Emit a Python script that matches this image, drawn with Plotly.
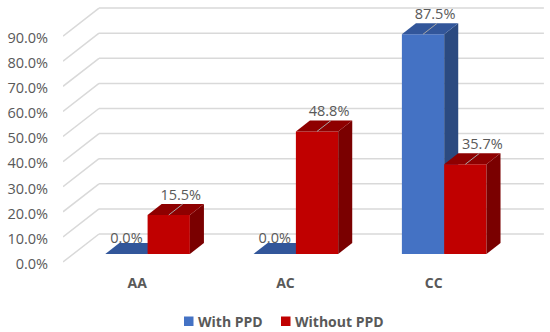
import plotly.graph_objects as go

categories = ["AA", "AC", "CC"]
series_names = ["With PPD", "Without PPD"]
with_ppd = [0.0, 0.0, 87.5]
without_ppd = [15.5, 48.8, 35.7]
y_ticks = [0, 10, 20, 30, 40, 50, 60, 70, 80, 90]
y_tick_labels = [f"{v:.1f}%" for v in y_ticks]

GRAY = "#595959"
BLUE, RED = "#4472C4", "#C00000"
FONT = "Open Sans, Noto Sans, sans-serif"
PX_X, PX_Y = 148.3, 2.51          # pixels per category / per percent
W, H = 550, 332
L, R, T, B = 63, 6, 0, 65
FLOOR_Y = 262                     # pixel row of 0% on the front edge of the floor
X_RANGE = [-0.5, -0.5 + (W - L - R) / PX_X]
Y_RANGE = [(FLOOR_Y - (H - B)) / PX_Y, FLOOR_Y / PX_Y]
LABEL_NUDGE = 0.7                 # tick labels sit a little below their grid line start


def wall(d):
    """Shift (in axis units) for depth d, 0 = front of the floor, 1 = back wall."""
    return d * 36 / PX_X, d * 28 / PX_Y


D0, D1 = 0.29, 0.68
BAR_W = 42.3 / PX_X
dx0, dy0 = wall(D0)
dx1, dy1 = wall(D1)

fig = go.Figure()


def add_bars(values, offset, name, front, side, top, xa, ya):
    xs = [i + offset + dx0 for i in range(len(values))]
    fig.add_trace(go.Bar(x=xs, y=values, base=dy0, width=BAR_W, name=name,
                         marker=dict(color=front, line=dict(width=0)), showlegend=False,
                         xaxis=xa, yaxis=ya, hoverinfo="skip"))
    for x, v in zip(xs, values):
        l, r = x - BAR_W / 2, x + BAR_W / 2
        yt = v + dy0
        ddx, ddy = dx1 - dx0, dy1 - dy0
        if v > 0:
            fig.add_trace(go.Scatter(
                x=[r, r + ddx, r + ddx, r, r], y=[dy0, dy0 + ddy, yt + ddy, yt, dy0],
                mode="lines", fill="toself", fillcolor=side, line=dict(width=0),
                showlegend=False, hoverinfo="skip", xaxis=xa, yaxis=ya))
        fig.add_trace(go.Scatter(
            x=[l, r, r + ddx, l + ddx, l], y=[yt, yt, yt + ddy, yt + ddy, yt],
            mode="lines", fill="toself", fillcolor=top, line=dict(width=0),
            showlegend=False, hoverinfo="skip", xaxis=xa, yaxis=ya))


add_bars(with_ppd, -BAR_W / 2, series_names[0], BLUE, "#2B4A80", "#32569A", "x", "y")
add_bars(without_ppd, BAR_W / 2, series_names[1], RED, "#7A0000", "#8E0000", "x2", "y2")

# leader lines from the front of each top face to its back
for values, offset in ((with_ppd, -BAR_W / 2), (without_ppd, BAR_W / 2)):
    for i, v in enumerate(values):
        if v > 0:
            fig.add_trace(go.Scatter(
                x=[i + offset + dx0, i + offset + dx1], y=[v + dy0, v + dy1],
                mode="lines", line=dict(color="#A6A6A6", width=1),
                showlegend=False, hoverinfo="skip", xaxis="x2", yaxis="y2"))

# data labels
for values, offset in ((with_ppd, -BAR_W / 2), (without_ppd, BAR_W / 2)):
    for i, v in enumerate(values):
        label_dx = 0 if v == 0 else (17 if (i, offset > 0) == (2, True) else 12)
        label_dy = 15 if v == 0 else 19
        fig.add_trace(go.Scatter(
            x=[i + offset + dx0 + label_dx / PX_X], y=[v + dy0 + label_dy / PX_Y],
            mode="text", text=[f"{v:.1f}%"], textposition="middle center",
            textfont=dict(family=FONT, size=14.5, color=GRAY),
            showlegend=False, hoverinfo="skip", xaxis="x2", yaxis="y2", cliponaxis=False))

# walls: grid lines drawn beneath the bars
wx, wy = wall(1)
shapes = []
for v in y_ticks:
    line = dict(color="#D9D9D9", width=1.5)
    shapes.append(dict(type="line", xref="x", yref="y", layer="below",
                       x0=-0.5, y0=v, x1=-0.5 + wx, y1=v + wy, line=line))
    shapes.append(dict(type="line", xref="x", yref="y", layer="below",
                       x0=-0.5 + wx, y0=v + wy, x1=2.5 + wx, y1=v + wy, line=line))


# legend: small square swatches sit closer to their text than a native legend allows
def px(x):
    return (x - L) / (W - L - R)


def py(y):
    return (H - B - y) / (H - T - B)


annotations = []
for name, color, sx in zip(series_names, (BLUE, RED), (184, 281)):
    shapes.append(dict(type="rect", xref="paper", yref="paper", layer="above",
                       x0=px(sx), x1=px(sx + 9.5), y0=py(326), y1=py(316.5),
                       fillcolor=color, line=dict(width=0)))
    annotations.append(dict(xref="paper", yref="paper", x=px(sx + 11.5), y=py(321),
                            xanchor="left", yanchor="middle", showarrow=False, text=name,
                            font=dict(family=FONT, size=14, color=GRAY, weight="bold")))

fig.update_layout(
    width=W, height=H, margin=dict(l=L, r=R, t=T, b=B, autoexpand=False),
    paper_bgcolor="white", plot_bgcolor="white", barmode="overlay",
    shapes=shapes, annotations=annotations, showlegend=False,
    font=dict(family=FONT, color=GRAY, size=14),
    xaxis=dict(range=X_RANGE, tickmode="array", tickvals=[0, 1, 2], ticktext=categories,
               showgrid=False, zeroline=False, showline=False,
               ticks="outside", ticklen=3, tickcolor="rgba(0,0,0,0)",
               tickfont=dict(family=FONT, size=14, color=GRAY, weight="bold")),
    yaxis=dict(range=Y_RANGE, tickmode="array",
               tickvals=[v - LABEL_NUDGE for v in y_ticks], ticktext=y_tick_labels,
               showgrid=False, zeroline=False, showline=False,
               ticks="outside", ticklen=11, tickcolor="rgba(0,0,0,0)",
               tickfont=dict(family=FONT, size=14.5, color=GRAY)),
    xaxis2=dict(range=X_RANGE, overlaying="x", visible=False),
    yaxis2=dict(range=Y_RANGE, overlaying="y", visible=False),
)

fig.write_html("out.html", config={"displayModeBar": False},
               post_script="document.body.style.margin='0';document.documentElement.style.overflow='hidden';")
